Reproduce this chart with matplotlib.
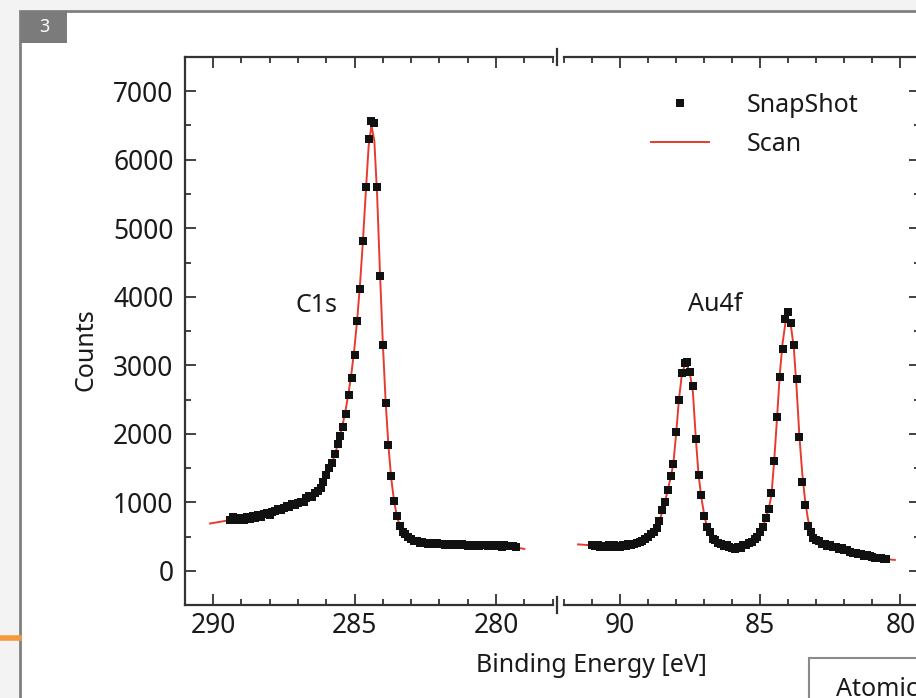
import numpy as np
import matplotlib.pyplot as plt
from matplotlib.patches import Rectangle
from matplotlib.lines import Line2D
from matplotlib.ticker import MultipleLocator

plt.rcParams['font.family'] = ['Noto Sans', 'DejaVu Sans']

# C1s region, 0.1 eV steps, high to low binding energy
c1s_fit_start = 290.1
c1s_fit = [
    690, 697, 704, 711, 718, 725, 732, 739, 746, 752,
    758, 765, 772, 779, 786, 793, 800, 808, 816, 824,
    833, 842, 852, 862, 873, 885, 898, 912, 927, 943,
    960, 978, 998, 1020, 1045, 1075, 1110, 1148, 1190, 1240,
    1305, 1380, 1470, 1570, 1690, 1830, 1990, 2170, 2380, 2620,
    2910, 3260, 3690, 4210, 4830, 5530, 6200, 6500, 6280, 5480,
    4350, 3330, 2470, 1820, 1340, 1010, 795, 660, 582, 532,
    498, 474, 456, 442, 431, 422, 415, 409, 404, 400,
    397, 394, 392, 390, 388, 387, 385, 384, 382, 381,
    380, 378, 377, 376, 375, 374, 373, 372, 371, 370,
    369, 368, 366, 363, 360, 356, 351, 346, 340, 333,
    326, 318,
]
c1s_snap_start = 289.4
c1s_snap = [
    745, 790, 760, 735, 770, 745, 790, 760, 800, 775,
    820, 790, 835, 845, 820, 860, 875, 900, 880, 910,
    950, 935, 975, 960, 990, 1010, 1000, 1060, 1090, 1080,
    1130, 1160, 1210, 1300, 1400, 1500, 1580, 1700, 1850, 1960,
    2100, 2290, 2560, 2820, 3150, 3640, 4120, 4820, 5600, 6300,
    6560, 6540, 5600, 4300, 3300, 2450, 1830, 1380, 1020, 800,
    660, 570, 530, 490, 470, 440, 430, 410, 420, 400,
    395, 410, 390, 400, 385, 395, 380, 390, 375, 395,
    380, 370, 385, 375, 360, 380, 365, 375, 355, 370,
    380, 360, 370, 355, 375, 365, 350, 370, 360, 355,
    365, 350,
]

# Au4f region
au_fit_start = 91.5
au_fit = [
    385, 382, 379, 376, 374, 372, 370, 369, 368, 367,
    367, 367, 368, 369, 371, 373, 376, 380, 385, 391,
    398, 407, 418, 430, 460, 495, 535, 580, 630, 710,
    860, 1000, 1180, 1350, 1560, 2000, 2500, 2850, 3000, 2990,
    2860, 2600, 1950, 1400, 1070, 820, 640, 540, 480, 440,
    410, 385, 365, 350, 340, 334, 332, 336, 345, 360,
    380, 402, 428, 462, 505, 560, 650, 760, 900, 1100,
    1620, 2230, 2880, 3330, 3620, 3680, 3560, 3250, 2650, 1950,
    1420, 1030, 760, 590, 500, 455, 422, 400, 384, 371,
    360, 350, 338, 326, 314, 302, 290, 278, 266, 256,
    246, 237, 228, 220, 212, 204, 196, 189, 182, 176,
    170, 166, 162, 158,
]
au_snap_start = 91.0
au_snap = [
    370, 355, 380, 350, 365, 345, 370, 350, 375, 360,
    350, 380, 365, 390, 375, 395, 400, 425, 430, 470,
    500, 540, 570, 625, 720, 880, 1000, 1180, 1380, 1560,
    2030, 2500, 2880, 3040, 3050, 2900, 2700, 1930, 1400, 1100,
    800, 640, 560, 470, 450, 400, 390, 360, 370, 340,
    330, 320, 350, 335, 370, 380, 410, 420, 470, 500,
    560, 640, 770, 900, 1140, 1600, 2250, 2830, 3240, 3680,
    3780, 3620, 3290, 2800, 1950, 1290, 960, 650, 560, 480,
    450, 430, 390, 395, 360, 370, 345, 350, 320, 325,
    300, 305, 270, 265, 260, 240, 245, 220, 230, 210,
    205, 190, 180, 185, 170, 175,
]

y_ticks = [0, 1000, 2000, 3000, 4000, 5000, 6000, 7000]
ink = '#1a1a1a'
spine_col = '#333333'
red = '#e63b2e'
txt_size = 18


def energy_grid(start, values):
    return np.round(start - 0.1 * np.arange(len(values)), 1)


W, H = 916, 698
fig = plt.figure(figsize=(W / 100, H / 100), dpi=100)
fig.patch.set_facecolor('#f3f3f3')

# page frame and the small number tab
fig.add_artist(Rectangle((20 / W, -0.1), 1.2, 1.1 - 11 / H, transform=fig.transFigure,
                         facecolor='white', edgecolor='#808080', lw=2, zorder=0))
fig.add_artist(Rectangle((21 / W, 1 - 43 / H), 46 / W, 32 / H, transform=fig.transFigure,
                         facecolor='#7b7b7b', edgecolor='none', zorder=1))
fig.text(44 / W, 1 - 27 / H, '3', color='white', fontsize=13, ha='center', va='center')
fig.add_artist(Line2D([0, 19 / W], [1 - 638 / H] * 2, color='#f39a3d', lw=4))

bottom = 1 - 605 / H
height = (605 - 57) / H
ax1 = fig.add_axes([184.7 / W, bottom, (552.6 - 184.7) / W, height])
ax2 = fig.add_axes([564 / W, bottom, (920 - 564) / W, height])

for ax in (ax1, ax2):
    ax.set_facecolor('none')
    ax.set_ylim(-500, 7500)
    ax.set_yticks(y_ticks)
    ax.yaxis.set_minor_locator(MultipleLocator(500))
    ax.xaxis.set_major_locator(MultipleLocator(5))
    ax.xaxis.set_minor_locator(MultipleLocator(1))
    ax.tick_params(which='both', direction='in', top=True, bottom=True,
                   color=spine_col, width=1.3, labelsize=19, labelcolor=ink)
    ax.tick_params(which='major', length=8, pad=5)
    ax.tick_params(which='minor', length=4)
    for s in ax.spines.values():
        s.set_color(spine_col)
        s.set_linewidth(1.6)

ax1.set_xlim(291, 278)
ax1.spines['right'].set_visible(False)
ax1.tick_params(which='both', left=True, right=False)
ax1.tick_params(axis='y', pad=8)

ax2.set_xlim(92, 79.3)
ax2.spines['left'].set_visible(False)
ax2.tick_params(which='both', left=False, right=True, labelleft=False)

ax1.plot(energy_grid(c1s_fit_start, c1s_fit), c1s_fit, color=red, lw=1.4, zorder=2)
ax1.plot(energy_grid(c1s_snap_start, c1s_snap), c1s_snap, 's', color='#111111',
         ms=5.2, mew=0, zorder=3)
ax2.plot(energy_grid(au_fit_start, au_fit), au_fit, color=red, lw=1.4, zorder=2)
ax2.plot(energy_grid(au_snap_start, au_snap), au_snap, 's', color='#111111',
         ms=5.2, mew=0, zorder=3)

ax1.text(286.33, 3870, 'C1s', fontsize=txt_size, color=ink, ha='center', va='center')
ax2.text(86.6, 3880, 'Au4f', fontsize=txt_size, color=ink, ha='center', va='center')

handles = [Line2D([], [], ls='none', marker='s', color='#111111', ms=5.2, mew=0),
           Line2D([], [], color=red, lw=1.4)]
ax2.legend(handles, ['SnapShot', 'Scan'], loc='upper left',
           bbox_to_anchor=((651 - 564) / 356, (605 - 93) / 548), frameon=False,
           fontsize=txt_size, handlelength=2.3, handletextpad=1.55, labelspacing=0.55,
           borderpad=0, borderaxespad=0, labelcolor=ink)

# break marks between the two panels
for y0, y1 in ((49, 65), (597, 613)):
    fig.add_artist(Line2D([557 / W] * 2, [1 - y0 / H, 1 - y1 / H], color=spine_col, lw=1.6))

fig.text(86 / W, 1 - 350 / H, 'Counts', rotation=90, fontsize=txt_size, color=ink,
         ha='center', va='center')
fig.text(591 / W, 1 - 666 / H, 'Binding Energy [eV]', fontsize=txt_size, color=ink,
         ha='center', va='center')

# side table, only its corner shows
fig.add_artist(Rectangle((809 / W, -0.1), 0.3, 0.1 + 1 - 658 / H, transform=fig.transFigure,
                         facecolor='white', edgecolor='#8a8a8a', lw=1.5))
fig.text(836 / W, 1 - 696 / H, 'Atomic', fontsize=txt_size, color=ink, ha='left', va='baseline')

fig.savefig('out.png', dpi=100, facecolor=fig.get_facecolor())
